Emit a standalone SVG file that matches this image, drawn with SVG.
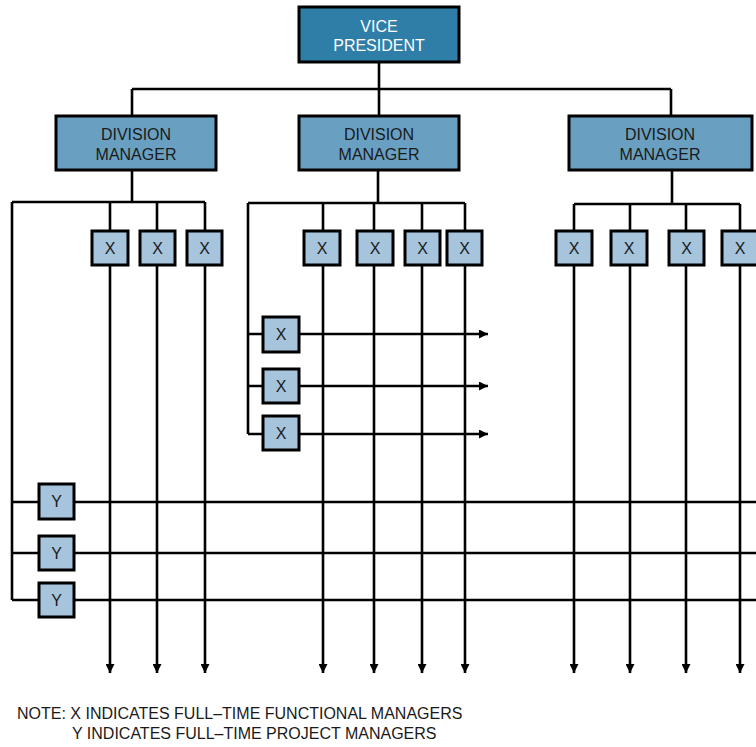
<svg xmlns="http://www.w3.org/2000/svg" width="756" height="747" viewBox="0 0 756 747">
<style>
.ln{stroke:#000;stroke-width:2.6;fill:none}
.vp{fill:#2f7ea8;stroke:#000;stroke-width:3}
.dm{fill:#69a0c2;stroke:#000;stroke-width:3}
.sm{fill:#a6c4dc;stroke:#000;stroke-width:3}
text{font-family:"Liberation Sans",Arial,sans-serif;font-size:16px;text-anchor:middle}
.w{fill:#fff}
.d{fill:#1a1a1a}
.note{text-anchor:start;fill:#1a1a1a;font-size:16px}
</style>
<defs>
<marker id="ah" viewBox="0 0 10 10" refX="10" refY="5" markerWidth="10" markerHeight="9" markerUnits="userSpaceOnUse" orient="auto">
<path d="M0,0 L10,5 L0,10 z" fill="#000"/>
</marker>
</defs>
<g id="connectors">
<path class="ln" d="M379,62 V89 M132,89 H671 M132,89 V116 M379,89 V116 M671,89 V116"/>
<path class="ln" d="M132,170 V202 M12,202 H205 M12,202 V600"/>
<path class="ln" d="M378,170 V203 M248,203 H465 M248,203 V434"/>
<path class="ln" d="M672,170 V204 M574,204 H740"/>
<path class="ln" d="M12,502 H756 M12,553 H756 M12,600 H756"/>
<path class="ln" marker-end="url(#ah)" d="M248,334 H488"/>
<path class="ln" marker-end="url(#ah)" d="M248,386 H488"/>
<path class="ln" marker-end="url(#ah)" d="M248,434 H488"/>
<path class="ln" marker-end="url(#ah)" d="M110,202 V673"/>
<path class="ln" marker-end="url(#ah)" d="M157,202 V673"/>
<path class="ln" marker-end="url(#ah)" d="M205,202 V673"/>
<path class="ln" marker-end="url(#ah)" d="M323,203 V673"/>
<path class="ln" marker-end="url(#ah)" d="M374,203 V673"/>
<path class="ln" marker-end="url(#ah)" d="M422,203 V673"/>
<path class="ln" marker-end="url(#ah)" d="M465,203 V673"/>
<path class="ln" marker-end="url(#ah)" d="M574,204 V673"/>
<path class="ln" marker-end="url(#ah)" d="M630,204 V673"/>
<path class="ln" marker-end="url(#ah)" d="M686,204 V673"/>
<path class="ln" marker-end="url(#ah)" d="M740,204 V673"/>
</g>
<g id="vp"><rect class="vp" x="299" y="7" width="160" height="55"/><text class="w" x="379" y="32">VICE</text><text class="w" x="379" y="51">PRESIDENT</text></g>
<g id="dm1"><rect class="dm" x="56" y="116" width="160" height="54"/><text class="d" x="136" y="140">DIVISION</text><text class="d" x="136" y="160">MANAGER</text></g>
<g id="dm2"><rect class="dm" x="299" y="116" width="160" height="54"/><text class="d" x="379" y="140">DIVISION</text><text class="d" x="379" y="160">MANAGER</text></g>
<g id="dm3"><rect class="dm" x="569" y="116" width="183" height="54"/><text class="d" x="660" y="140">DIVISION</text><text class="d" x="660" y="160">MANAGER</text></g>
<g id="x1"><rect class="sm" x="92" y="231" width="36" height="34"/><text class="d" x="110" y="254">X</text></g>
<g id="x2"><rect class="sm" x="140" y="231" width="35" height="34"/><text class="d" x="157.5" y="254">X</text></g>
<g id="x3"><rect class="sm" x="187" y="231" width="35" height="34"/><text class="d" x="204.5" y="254">X</text></g>
<g id="x4"><rect class="sm" x="304" y="231" width="36" height="34"/><text class="d" x="322" y="254">X</text></g>
<g id="x5"><rect class="sm" x="357" y="231" width="36" height="34"/><text class="d" x="375" y="254">X</text></g>
<g id="x6"><rect class="sm" x="405" y="231" width="35" height="34"/><text class="d" x="422.5" y="254">X</text></g>
<g id="x7"><rect class="sm" x="447" y="231" width="35" height="34"/><text class="d" x="464.5" y="254">X</text></g>
<g id="x8"><rect class="sm" x="556" y="231" width="36" height="34"/><text class="d" x="574" y="254">X</text></g>
<g id="x9"><rect class="sm" x="611" y="231" width="36" height="34"/><text class="d" x="629" y="254">X</text></g>
<g id="x10"><rect class="sm" x="669" y="231" width="35" height="34"/><text class="d" x="686.5" y="254">X</text></g>
<g id="x11"><rect class="sm" x="722" y="231" width="36" height="34"/><text class="d" x="740" y="254">X</text></g>
<g id="x12"><rect class="sm" x="263" y="317" width="36" height="35"/><text class="d" x="281" y="340">X</text></g>
<g id="x13"><rect class="sm" x="263" y="369" width="36" height="34"/><text class="d" x="281" y="392">X</text></g>
<g id="x14"><rect class="sm" x="263" y="416" width="36" height="34"/><text class="d" x="281" y="439">X</text></g>
<g id="y1"><rect class="sm" x="39" y="484" width="35" height="35"/><text class="d" x="56.5" y="507">Y</text></g>
<g id="y2"><rect class="sm" x="39" y="536" width="35" height="34"/><text class="d" x="56.5" y="559">Y</text></g>
<g id="y3"><rect class="sm" x="39" y="583" width="35" height="34"/><text class="d" x="56.5" y="606">Y</text></g>
<g id="note">
<text class="note" x="17" y="719">NOTE: X INDICATES FULL–TIME FUNCTIONAL MANAGERS</text>
<text class="note" x="72" y="739">Y INDICATES FULL–TIME PROJECT MANAGERS</text>
</g>
</svg>
